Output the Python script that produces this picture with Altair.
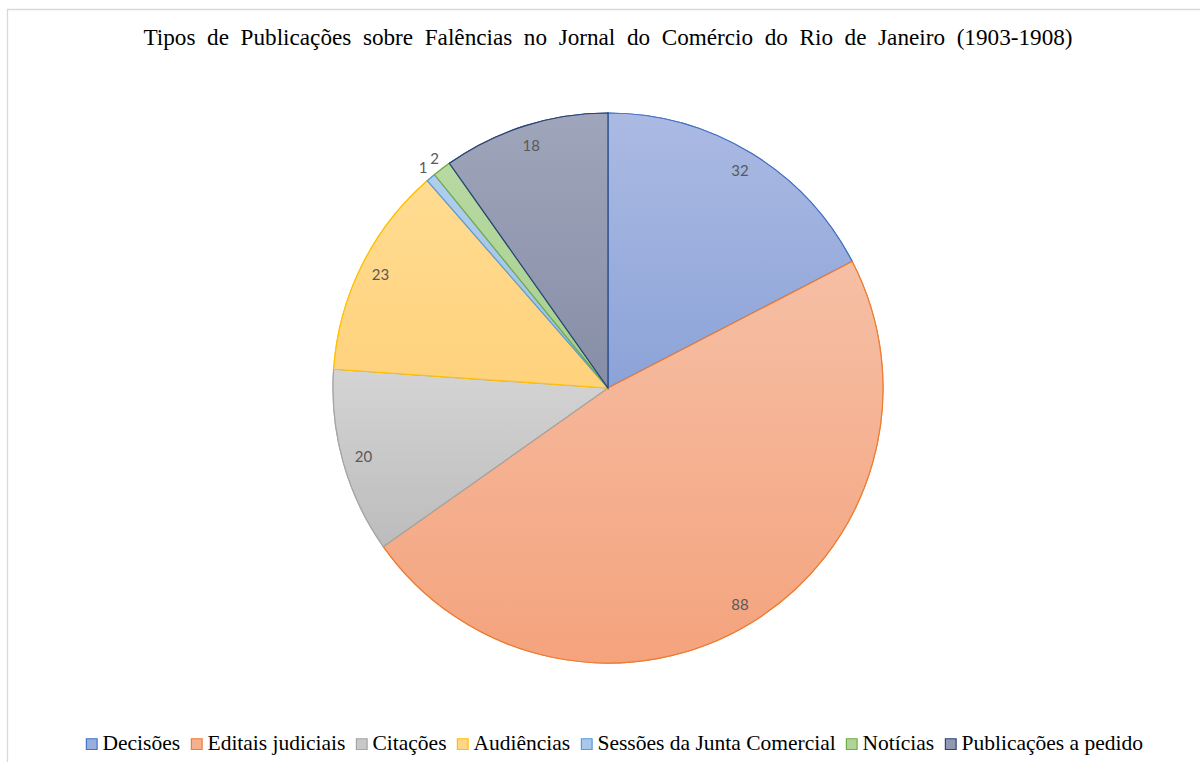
import altair as alt
import pandas as pd

# ---- data ----
categories = ["Decisões", "Editais judiciais", "Citações", "Audiências",
              "Sessões da Junta Comercial", "Notícias", "Publicações a pedido"]
values = [32, 88, 20, 23, 1, 2, 18]
title_text = "Tipos de Publicações sobre Falências no Jornal do Comércio do Rio de Janeiro (1903-1908)"

# ---- styles ----
stroke_colors = ["#4472c4", "#ed7d31", "#a5a5a5", "#ffc000", "#5b9bd5", "#70ad47", "#264478"]
grad_top = ["#abbae3", "#f6bfa5", "#d4d4d4", "#ffdc92", "#b0cdec", "#b8d9a2", "#9fa5ba"]
grad_bot = ["#8ca3d8", "#f4a37d", "#bcbcbc", "#ffd27c", "#9fc1e6", "#a8cf8e", "#868ea7"]
legend_fill = ["#9aaedd", "#f5b090", "#c8c8c8", "#ffd687", "#a8c8e9", "#b0d498", "#9298b0"]

df = pd.DataFrame({"cat": categories, "value": values, "order": list(range(len(categories)))})
total = sum(values)

CX, CY, R = 608, 388, 275

base = alt.Chart(df).transform_window(
    cum_end="sum(value)", sort=[alt.SortField("order")], frame=[None, 0]
).transform_calculate(
    cum_start="datum.cum_end - datum.value",
    mid="datum.cum_end - datum.value / 2",
    r="datum.value < 5 ? 287 : 254",
)

theta_scale = alt.Scale(domain=[0, total])

legend = alt.Legend(
    orient="none", legendX=81, legendY=733, direction="horizontal", columns=7,
    symbolType="square", symbolSize=115, symbolStrokeWidth=1.2,
    labelFont="Liberation Serif", labelFontSize=21.5, labelColor="#000000",
    labelOffset=0, labelLimit=500, columnPadding=5, padding=0, title=None,
)

base_arc = base.mark_arc(radius=R, strokeWidth=1.2).encode(
    x=alt.value(CX), y=alt.value(CY),
    theta=alt.Theta("cum_start:Q", scale=theta_scale, stack=False),
    theta2="cum_end:Q",
    fill=alt.Fill("cat:N", scale=alt.Scale(domain=categories, range=legend_fill), legend=legend, title=None),
    stroke=alt.Stroke("cat:N", scale=alt.Scale(domain=categories, range=stroke_colors), legend=legend, title=None),
)

layers = [base_arc]
for c, s, t, b in zip(categories, stroke_colors, grad_top, grad_bot):
    grad = alt.LinearGradient(
        gradient="linear",
        stops=[alt.GradientStop(color=t, offset=0), alt.GradientStop(color=b, offset=1)],
        x1=0, x2=0, y1=0, y2=1,
    )
    layers.append(
        base.transform_filter(alt.datum.cat == c).mark_arc(
            radius=R, fill=grad, stroke=s, strokeWidth=1.2
        ).encode(
            x=alt.value(CX), y=alt.value(CY),
            theta=alt.Theta("cum_start:Q", scale=theta_scale, stack=False),
            theta2="cum_end:Q",
        )
    )

labels = base.mark_text(
    font="Lato", fontSize=15, color="#595959", align="center", baseline="middle"
).encode(
    x=alt.value(CX), y=alt.value(CY),
    theta=alt.Theta("mid:Q", scale=theta_scale, stack=False),
    radius=alt.Radius("r:Q", scale=None),
    text=alt.Text("value:Q"),
)
layers.append(labels)

title_df = pd.DataFrame({"t": [" \u00a0".join(title_text.split(" "))]})
title = alt.Chart(title_df).mark_text(
    font="Liberation Serif", fontSize=23.2, color="#000000", align="center", baseline="alphabetic"
).encode(x=alt.value(608), y=alt.value(45), text="t:N")
layers.append(title)

border = alt.Chart(pd.DataFrame({"k": [0]})).mark_rect(
    fill="transparent", stroke="#d9d9d9", strokeWidth=1.3
).encode(x=alt.value(7.5), y=alt.value(9.5), x2=alt.value(1230), y2=alt.value(800))
layers.append(border)

chart = alt.layer(*layers).properties(
    width=1200, height=762, padding=0,
    autosize=alt.AutoSizeParams(type="none"),
    background="#ffffff",
).configure_view(strokeWidth=0)

chart.save("out.html", embed_options={"renderer": "svg", "actions": False})
